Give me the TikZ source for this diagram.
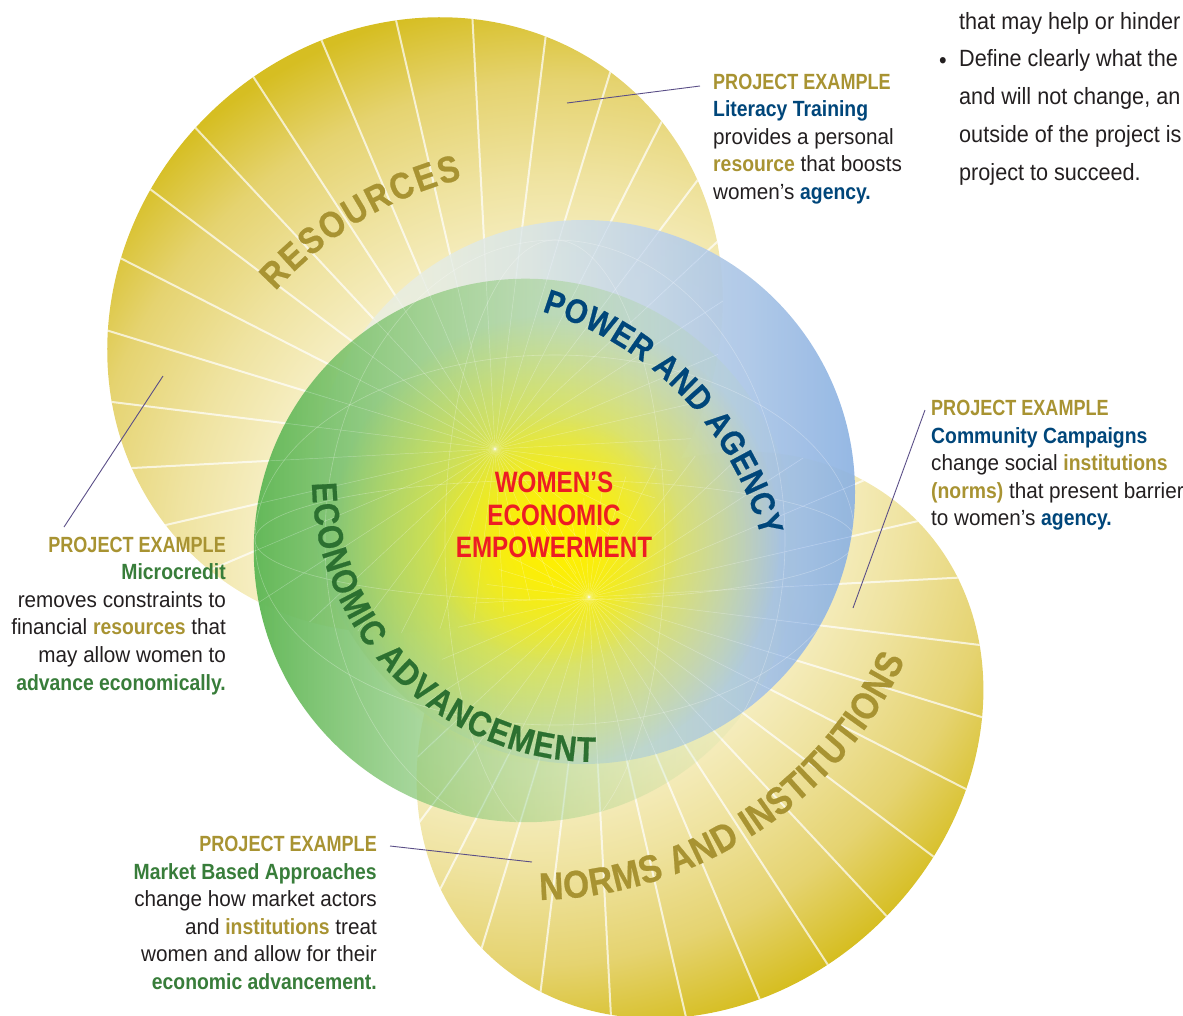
\documentclass[tikz,border=0pt]{standalone}
\usepackage{fontspec}
\usetikzlibrary{calc,decorations.text,fadings,shadings}
\setmainfont{Liberation Sans}
\newfontfamily\regf{Liberation Sans}[FakeStretch=0.94]
\newfontfamily\trf{Liberation Sans}[FakeStretch=0.92]
\newfontfamily\boldf{Liberation Sans}[FakeStretch=0.88]
\newfontfamily\capf{Liberation Sans}[FakeStretch=0.82]
\newfontfamily\curvf{Liberation Sans}[FakeStretch=0.87,FakeBold=0.6]

\definecolor{gold}{RGB}{168,147,50}
\definecolor{navy}{RGB}{0,70,122}
\definecolor{dgreen}{RGB}{56,125,58}
\definecolor{egreen}{RGB}{44,112,48}
\definecolor{bodygray}{RGB}{35,31,32}
\definecolor{wred}{RGB}{237,28,36}
\definecolor{callout}{RGB}{90,78,135}
\definecolor{dpale0}{RGB}{252,249,232}
\definecolor{dpale1}{RGB}{247,240,200}
\definecolor{dmid1}{RGB}{239,227,160}
\definecolor{dmid2}{RGB}{229,211,112}
\definecolor{ddark}{RGB}{214,190,34}
\definecolor{bp0}{RGB}{238,240,222}
\definecolor{bp1}{RGB}{232,237,224}
\definecolor{bp2}{RGB}{218,229,228}
\definecolor{bp3}{RGB}{196,214,232}
\definecolor{bp4}{RGB}{170,197,230}
\definecolor{bp5}{RGB}{140,178,226}
\definecolor{gr0}{RGB}{100,185,90}
\definecolor{gr1}{RGB}{196,224,166}
\definecolor{wyel}{RGB}{255,240,0}

\pgfdeclareradialshading{discshade}{\pgfpoint{0bp}{0bp}}{color(0bp)=(dpale0); color(12bp)=(dpale1); color(16bp)=(dmid1); color(20bp)=(dmid2); color(23.5bp)=(ddark); color(50bp)=(ddark)}
\pgfdeclarehorizontalshading{blueshade}{100bp}{color(0bp)=(bp0); color(25bp)=(bp0); color(35bp)=(bp1); color(45bp)=(bp2); color(55bp)=(bp3); color(65bp)=(bp4); color(75bp)=(bp5); color(100bp)=(bp5)}
\tikzfading[name=fadeeast, left color=transparent!0, right color=transparent!100]
\tikzfading[name=glowfade, inner color=transparent!0, outer color=transparent!100]

\newcommand\PE{{\capf\bfseries\color{gold}PROJECT EXAMPLE}}
\newcommand\hlt[2]{{\boldf\bfseries\color{#1}#2}}

\begin{document}
\begin{tikzpicture}[x=1pt,y=1pt,
  ray/.style={white, line width=2, opacity=0.7},
  thinray/.style={white, line width=0.45, opacity=0.3},
  globe/.style={white, line width=0.6, opacity=0.28},
  calloutline/.style={draw=callout, line width=0.9},
  para/.style={inner sep=0, text=bodygray, font=\regf\fontsize{22}{27.6}\selectfont}]
\useasboundingbox (0,0) rectangle (1183,-1015);
\clip (0,0) rectangle (1183,-1015);

\coordinate (RC) at (415,-325);
\coordinate (RSH) at (560,-560);
\coordinate (V1) at (495,-449);
\coordinate (NC) at (700,-735);
\coordinate (NSH) at (524,-486);
\coordinate (V2) at (589,-597);
\coordinate (BC) at (583,-492);
\coordinate (GC) at (526,-550);
\coordinate (GLC) at (555,-540);
\coordinate (CR1) at (552,-540);
\coordinate (CP) at (450,-620);
\coordinate (CE) at (596,-478);
\coordinate (CN) at (532,-490);

% resources disc
\begin{scope}
  \clip[rotate around={45:(RC)}] (RC) ellipse [x radius=320, y radius=295];
  \shade[shading=discshade] (RSH) circle (600);
  \foreach \a in {3,13,...,353} \draw[ray] (V1) -- ++(\a:800);
\end{scope}
% norms disc
\begin{scope}
  \clip[rotate around={45:(NC)}] (NC) ellipse [x radius=305, y radius=260];
  \shade[shading=discshade] (NSH) circle (600);
  \foreach \a in {3,13,...,353} \draw[ray] (V2) -- ++(\a:800);
\end{scope}

% power and agency circle
\shade[shading=blueshade, opacity=0.92] (BC) circle (272);
% economic advancement circle
\shade[left color=gr0, right color=gr1, path fading=fadeeast] (GC) circle (272);

\begin{scope}
  \clip (BC) circle (272) (GC) circle (272);
  \fill[wyel, path fading=glowfade] (GLC) circle (225);
  \fill[wyel, path fading=glowfade] (GLC) circle (125);
  \begin{scope}
    \clip[rotate around={45:(RC)}] (RC) ellipse [x radius=320, y radius=295];
    \foreach \a in {3,13,...,353} \draw[thinray] (V1) -- ++(\a:800);
  \end{scope}
  \begin{scope}
    \clip[rotate around={45:(NC)}] (NC) ellipse [x radius=305, y radius=260];
    \foreach \a in {3,13,...,353} \draw[thinray] (V2) -- ++(\a:800);
  \end{scope}
  \draw[globe] (GLC) ellipse [x radius=300, y radius=185];
  \draw[globe] (GLC) ellipse [x radius=300, y radius=60];
  \draw[globe] (GLC) ellipse [x radius=110, y radius=300];
  \draw[globe] (GLC) ellipse [x radius=230, y radius=300];
\end{scope}

% curved labels
\path[decorate, decoration={text along path, text align={fit to path}, text color=gold,
  text={|\curvf\bfseries\fontsize{37}{37}\selectfont|RESOURCES}}]
  ($(CR1)+(138:372)$) arc[start angle=138, end angle=104, radius=372];
\path[decorate, decoration={text along path, text align={fit to path}, text color=navy,
  text={|\curvf\bfseries\fontsize{34}{34}\selectfont|POWER AND AGENCY}}]
  ($(CP)+(73.4:322)$) arc[start angle=73.4, end angle=15, radius=322];
\path[decorate, decoration={text along path, text align={fit to path}, text color=egreen,
  text={|\curvf\bfseries\fontsize{35.5}{35.5}\selectfont|ECONOMIC ADVANCEMENT}}]
  ($(CE)+(181:284)$) arc[start angle=181, end angle=269.8, radius=284];
\path[decorate, decoration={text along path, text align={fit to path}, text color=gold,
  text={|\curvf\bfseries\fontsize{38.5}{38.5}\selectfont|NORMS AND INSTITUTIONS}}]
  ($(CN)+(271.1:410)$) arc[start angle=271.1, end angle=335.5, radius=410];

% centre
\node[anchor=north, align=center, inner sep=0, text=wred,
  font=\capf\bfseries\fontsize{29.5}{32.5}\selectfont] (wee) at (554,-472)
  {WOMEN’S\\ECONOMIC\\EMPOWERMENT};

% callouts
\node[para, anchor=north west, align=left] (lit) at (713,-73.5)
  {\PE\\\hlt{navy}{Literacy Training}\\provides a personal\\\hlt{gold}{resource} that boosts\\women’s \hlt{navy}{agency.}};
\node[para, anchor=north east, align=right] (micro) at (226,-536.5)
  {\PE\\\hlt{dgreen}{Microcredit}\\removes constraints to\\financial \hlt{gold}{resources} that\\may allow women to\\\hlt{dgreen}{advance economically.}};
\node[para, anchor=north west, align=left] (comm) at (931,-400)
  {\PE\\\hlt{navy}{Community Campaigns}\\change social \hlt{gold}{institutions}\\\hlt{gold}{(norms)} that present barrier\\to women’s \hlt{navy}{agency.}};
\node[para, anchor=north east, align=right] (mkt) at (377,-836)
  {\PE\\\hlt{dgreen}{Market Based Approaches}\\change how market actors\\and \hlt{gold}{institutions} treat\\women and allow for their\\\hlt{dgreen}{economic advancement.}};

\coordinate (litA) at (567,-103);   \coordinate (litB) at (700,-86);
\coordinate (micA) at (163,-376);   \coordinate (micB) at (64,-527);
\coordinate (comA) at (853,-608);   \coordinate (comB) at (925,-410);
\coordinate (mktA) at (532,-862);   \coordinate (mktB) at (390,-846);
\draw[calloutline] (litA) -- (litB);
\draw[calloutline] (micA) -- (micB);
\draw[calloutline] (comA) -- (comB);
\draw[calloutline] (mktA) -- (mktB);

% top right text
\node[anchor=north west, align=left, inner sep=0, text=bodygray,
  font=\trf\fontsize{23.5}{37.75}\selectfont] (tr) at (959,-12)
  {that may help or hinder\\Define clearly what the\\and will not change, an\\outside of the project is\\project to succeed.};
\node[anchor=base, inner sep=0, text=bodygray, font=\trf\fontsize{23.5}{28}\selectfont] (bul) at (943,-68) {•};
\end{tikzpicture}
\end{document}
